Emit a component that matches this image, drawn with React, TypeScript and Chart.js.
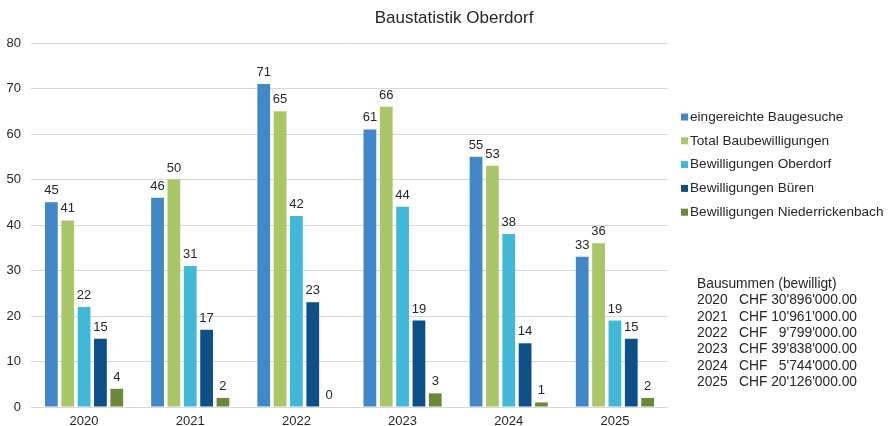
import React, { useEffect, useRef } from "react";
import { Chart, registerables } from "chart.js";

Chart.register(...registerables);

const categories = ["2020", "2021", "2022", "2023", "2024", "2025"];
const seriesNames = [
  "eingereichte Baugesuche",
  "Total Baubewilligungen",
  "Bewilligungen Oberdorf",
  "Bewilligungen Büren",
  "Bewilligungen Niederrickenbach",
];
const eingereicht = [45, 46, 71, 61, 55, 33];
const totalBewilligt = [41, 50, 65, 66, 53, 36];
const oberdorf = [22, 31, 42, 44, 38, 19];
const bueren = [15, 17, 23, 19, 14, 15];
const niederrickenbach = [4, 2, 0, 3, 1, 2];
const seriesColors = ["#4088C9", "#A9C766", "#40B8D8", "#0D4F87", "#6A8A36"];

const summeTitle = "Bausummen (bewilligt)";
const summeYears = ["2020", "2021", "2022", "2023", "2024", "2025"];
const summeAmounts = [30896000, 10961000, 9799000, 39838000, 5744000, 20126000];

const titleText = "Baustatistik Oberdorf";
const yMax = 80;
const yStep = 10;

const FONT = "Liberation Sans, Arial, sans-serif";
const TEXT = "#262626";

function formatCHF(n: number): string {
  const fixed = n.toFixed(2);
  const [intPart, dec] = fixed.split(".");
  const withSep = intPart.replace(/\B(?=(\d{3})+(?!\d))/g, "'");
  return withSep + "." + dec;
}

const decorPlugin = {
  id: "decor",
  afterDatasetsDraw(chart: any) {
    const ctx = chart.ctx as CanvasRenderingContext2D;
    ctx.save();
    // data labels
    ctx.font = `13px ${FONT}`;
    ctx.fillStyle = TEXT;
    ctx.textAlign = "center";
    ctx.textBaseline = "alphabetic";
    chart.data.datasets.forEach((ds: any, i: number) => {
      const meta = chart.getDatasetMeta(i);
      meta.data.forEach((el: any, j: number) => {
        ctx.fillText(String(ds.data[j]), el.x, el.y - 8);
      });
    });

    // title
    ctx.font = `17px ${FONT}`;
    ctx.textBaseline = "middle";
    ctx.fillText(titleText, 454, 18);

    // legend
    ctx.font = `13.6px ${FONT}`;
    ctx.textAlign = "left";
    chart.data.datasets.forEach((ds: any, i: number) => {
      const y = 117 + i * 23.8;
      ctx.fillStyle = ds.backgroundColor;
      ctx.fillRect(681, y - 3.5, 7, 7);
      ctx.fillStyle = TEXT;
      ctx.fillText(ds.label, 690, y);
    });

    // Bausummen
    ctx.font = `13.8px ${FONT}`;
    ctx.fillText(summeTitle, 697, 284);
    summeYears.forEach((yr, i) => {
      const y = 300.5 + i * 16.3;
      ctx.textAlign = "left";
      ctx.fillText(yr, 697, y);
      ctx.fillText("CHF", 739, y);
      ctx.textAlign = "right";
      ctx.fillText(formatCHF(summeAmounts[i]), 857, y);
    });
    ctx.restore();
  },
};

export default function App() {
  const ref = useRef<HTMLCanvasElement | null>(null);
  useEffect(() => {
    document.body.style.margin = "0";
    if (!ref.current) return;
    const allSeries = [eingereicht, totalBewilligt, oberdorf, bueren, niederrickenbach];
    const chart = new Chart(ref.current, {
      type: "bar",
      data: {
        labels: categories,
        datasets: allSeries.map((d, i) => ({
          label: seriesNames[i],
          data: d,
          backgroundColor: seriesColors[i],
          borderWidth: 0,
          categoryPercentage: 0.77,
          barPercentage: 0.78,
        })),
      },
      options: {
        animation: false,
        responsive: true,
        maintainAspectRatio: false,
        layout: { padding: { top: 43, right: 227, left: 6, bottom: 0 } },
        plugins: {
          legend: { display: false },
          title: { display: false },
          tooltip: { enabled: false },
        },
        scales: {
          x: {
            grid: { display: false, drawTicks: false },
            border: { display: false },
            ticks: { color: TEXT, font: { family: FONT, size: 13 }, padding: 7 },
            afterFit: (s: any) => {
              s.height = 19;
            },
          },
          y: {
            min: 0,
            max: yMax,
            grid: { color: "#D9D9D9", drawTicks: false, lineWidth: 1 },
            border: { display: false },
            ticks: {
              stepSize: yStep,
              color: TEXT,
              font: { family: FONT, size: 13 },
              padding: 10,
            },
            afterFit: (s: any) => {
              s.width = 25;
            },
          },
        },
      },
      plugins: [decorPlugin],
    });
    return () => chart.destroy();
  }, []);
  return (
    <div style={{ width: 895, height: 426, position: "relative" }}>
      <canvas ref={ref} />
    </div>
  );
}
